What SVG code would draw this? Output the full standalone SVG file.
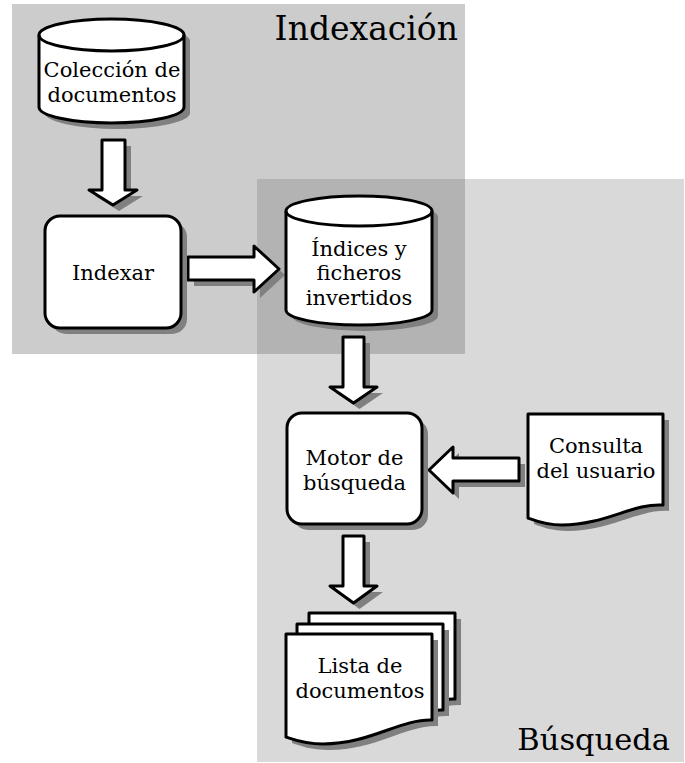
<svg xmlns="http://www.w3.org/2000/svg" width="685" height="763" viewBox="0 0 685 763">
  <style>
    .zone-a { fill: #cccccc; }
    .zone-b { fill: #d9d9d9; }
    .zone-ab { fill: #b3b3b3; }
    .shadow { fill: #808080; stroke: none; }
    .shape { fill: #ffffff; stroke: #000000; stroke-width: 3; stroke-linejoin: round; }
    .line { fill: none; stroke: #000000; stroke-width: 3; }
    .label { font-family: "DejaVu Serif", "Liberation Serif", serif; font-size: 21px; fill: #000000; text-anchor: middle; }
    .title { font-family: "DejaVu Serif", "Liberation Serif", serif; fill: #000000; text-anchor: end; }
  </style>

  <!-- Background zones -->
  <g id="zones">
    <rect class="zone-a" x="12" y="4" width="453" height="350"/>
    <rect class="zone-b" x="257" y="179" width="427" height="583"/>
    <rect class="zone-ab" x="257" y="179" width="208" height="175"/>
    <text class="title" x="458" y="40" font-size="33">Indexación</text>
    <text class="title" x="670" y="750" font-size="30.5">Búsqueda</text>
  </g>

  <!-- Block arrows between stages -->
  <g id="connectors">
    <g transform="translate(6,6)" class="shadow">
      <polygon points="102,140 125,140 125,190 137,190 113,205 89,190 102,190"/>
      <polygon points="188,257 254,257 254,246 279,269 254,292 254,280 188,280"/>
      <polygon points="343,337 364,337 364,387 377,387 353.5,403 330,387 343,387"/>
      <polygon points="519,458 453,458 453,447 429,470 453,493 453,481 519,481"/>
      <polygon points="343,536 364,536 364,586 377,586 353.5,603 330,586 343,586"/>
    </g>
    <polygon class="shape" points="102,140 125,140 125,190 137,190 113,205 89,190 102,190"/>
    <polygon class="shape" points="188,257 254,257 254,246 279,269 254,292 254,280 188,280"/>
    <polygon class="shape" points="343,337 364,337 364,387 377,387 353.5,403 330,387 343,387"/>
    <polygon class="shape" points="519,458 453,458 453,447 429,470 453,493 453,481 519,481"/>
    <polygon class="shape" points="343,536 364,536 364,586 377,586 353.5,603 330,586 343,586"/>
  </g>

  <!-- Document collection (database) -->
  <g id="coleccion">
    <path class="shadow" transform="translate(6,6)" d="M39,35 A72.5,16 0 0 1 184,35 V107 A72.5,16 0 0 1 39,107 Z"/>
    <path class="shape" d="M39,35 A72.5,16 0 0 1 184,35 V107 A72.5,16 0 0 1 39,107 Z"/>
    <path class="line" d="M39,35 A72.5,16 0 0 0 184,35"/>
    <text class="label" x="112" y="77">Colección de</text>
    <text class="label" x="112" y="102">documentos</text>
  </g>

  <!-- Indexing process -->
  <g id="indexar">
    <rect class="shadow" x="51" y="222" width="136" height="112" rx="15"/>
    <rect class="shape" x="45" y="216" width="136" height="112" rx="15"/>
    <text class="label" x="113" y="280">Indexar</text>
  </g>

  <!-- Inverted index store (database) -->
  <g id="indices">
    <path class="shadow" transform="translate(6,6)" d="M286,211 A73,15 0 0 1 432,211 V310 A73,15 0 0 1 286,310 Z"/>
    <path class="shape" d="M286,211 A73,15 0 0 1 432,211 V310 A73,15 0 0 1 286,310 Z"/>
    <path class="line" d="M286,211 A73,15 0 0 0 432,211"/>
    <text class="label" x="359" y="256">Índices y</text>
    <text class="label" x="359" y="280">ficheros</text>
    <text class="label" x="359" y="305">invertidos</text>
  </g>

  <!-- Search engine process -->
  <g id="motor">
    <rect class="shadow" x="293" y="419" width="135" height="111" rx="15"/>
    <rect class="shape" x="287" y="413" width="135" height="111" rx="15"/>
    <text class="label" x="354.5" y="465">Motor de</text>
    <text class="label" x="354.5" y="490">búsqueda</text>
  </g>

  <!-- User query (document) -->
  <g id="consulta">
    <path class="shadow" transform="translate(6,6)" d="M528,414 H663 V505 C633,503 605,525 562,525 C546,525 536,521 528,518 Z"/>
    <path class="shape" d="M528,414 H663 V505 C633,503 605,525 562,525 C546,525 536,521 528,518 Z"/>
    <text class="label" x="596" y="453">Consulta</text>
    <text class="label" x="596" y="478">del usuario</text>
  </g>

  <!-- Result list (stack of documents) -->
  <g id="lista">
    <defs>
      <path id="page" d="M286,634 H432 V720 C400,719 370,744 323,744 C305,744 295,740 286,737 Z"/>
    </defs>
    <use href="#page" class="shadow" transform="translate(29,-15)"/>
    <use href="#page" class="shape" transform="translate(23,-21)"/>
    <use href="#page" class="shadow" transform="translate(17,-4)"/>
    <use href="#page" class="shape" transform="translate(11,-10)"/>
    <use href="#page" class="shadow" transform="translate(6,6)"/>
    <use href="#page" class="shape"/>
    <text class="label" x="360" y="673">Lista de</text>
    <text class="label" x="360" y="698">documentos</text>
  </g>
</svg>
